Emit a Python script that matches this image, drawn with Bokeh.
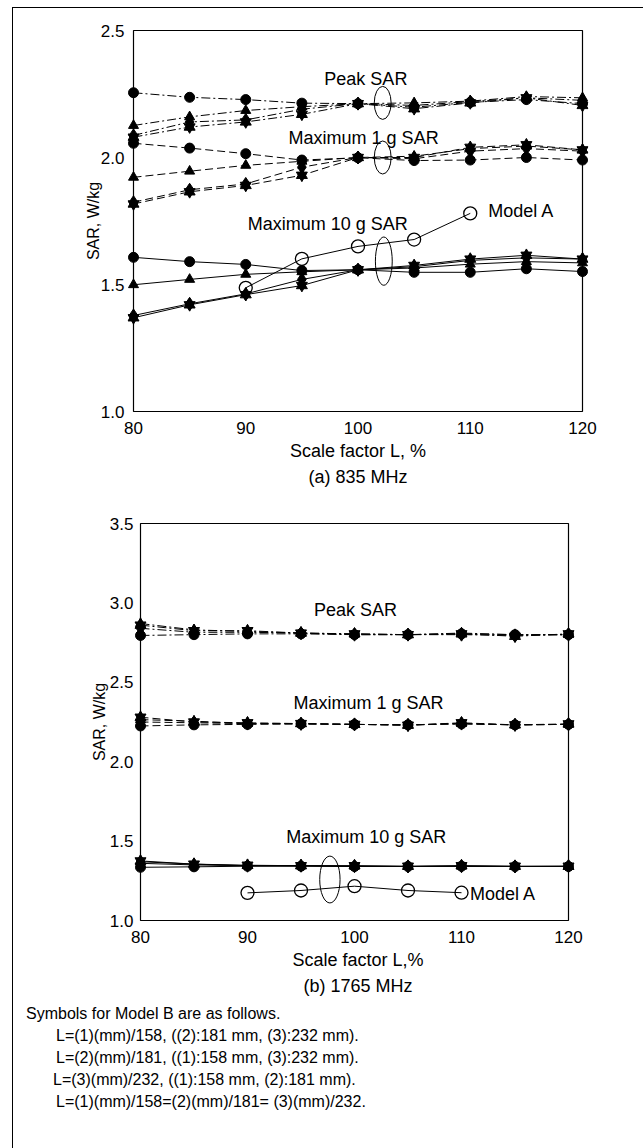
from bokeh.plotting import figure
from bokeh.models import Range1d, FixedTicker, PrintfTickFormatter, Title, Div
from bokeh.layouts import column
from bokeh.embed import file_html
from bokeh.resources import INLINE
from bokeh.core.properties import value

FONT = "Liberation Sans"

# ---------------- data ----------------
scale = [80, 85, 90, 95, 100, 105, 110, 115, 120]
model_a_scale = [90, 95, 100, 105, 110]
x_ticks = [80, 90, 100, 110, 120]

# (a) 835 MHz
a_y_ticks = [1.0, 1.5, 2.0, 2.5]
a_peak_circle = [2.255, 2.237, 2.228, 2.214, 2.212, 2.198, 2.217, 2.228, 2.212]
a_peak_triangle = [2.126, 2.160, 2.185, 2.200, 2.212, 2.215, 2.222, 2.240, 2.235]
a_peak_diamond = [2.087, 2.140, 2.148, 2.190, 2.212, 2.205, 2.220, 2.235, 2.225]
a_peak_star = [2.080, 2.120, 2.140, 2.170, 2.212, 2.192, 2.215, 2.235, 2.205]

a_1g_circle = [2.056, 2.037, 2.015, 1.990, 1.999, 1.988, 1.990, 2.000, 1.990]
a_1g_triangle = [1.922, 1.946, 1.969, 1.985, 2.000, 2.005, 2.035, 2.045, 2.030]
a_1g_diamond = [1.824, 1.873, 1.896, 1.962, 2.000, 1.995, 2.025, 2.035, 2.025]
a_1g_star = [1.817, 1.865, 1.890, 1.930, 2.000, 2.000, 2.040, 2.050, 2.030]

a_10g_circle = [1.607, 1.590, 1.579, 1.555, 1.558, 1.548, 1.548, 1.562, 1.551]
a_10g_triangle = [1.499, 1.520, 1.540, 1.550, 1.558, 1.565, 1.580, 1.590, 1.585]
a_10g_diamond = [1.378, 1.424, 1.463, 1.520, 1.558, 1.570, 1.595, 1.605, 1.600]
a_10g_star = [1.369, 1.420, 1.460, 1.496, 1.558, 1.575, 1.600, 1.615, 1.600]

a_model_a = [1.487, 1.601, 1.650, 1.677, 1.780]

# (b) 1765 MHz
b_y_ticks = [1.0, 1.5, 2.0, 2.5, 3.0, 3.5]
b_peak_circle = [2.795, 2.800, 2.805, 2.805, 2.800, 2.800, 2.805, 2.800, 2.800]
b_peak_triangle = [2.870, 2.830, 2.820, 2.810, 2.805, 2.800, 2.810, 2.800, 2.800]
b_peak_diamond = [2.840, 2.815, 2.815, 2.810, 2.800, 2.800, 2.800, 2.795, 2.800]
b_peak_star = [2.860, 2.825, 2.825, 2.810, 2.805, 2.800, 2.805, 2.790, 2.805]

b_1g_circle = [2.225, 2.232, 2.235, 2.238, 2.235, 2.232, 2.238, 2.232, 2.235]
b_1g_triangle = [2.265, 2.255, 2.240, 2.240, 2.235, 2.230, 2.240, 2.232, 2.235]
b_1g_diamond = [2.250, 2.245, 2.240, 2.238, 2.235, 2.232, 2.240, 2.232, 2.235]
b_1g_star = [2.280, 2.250, 2.245, 2.240, 2.235, 2.230, 2.245, 2.232, 2.238]

b_10g_circle = [1.335, 1.338, 1.342, 1.342, 1.340, 1.340, 1.342, 1.340, 1.340]
b_10g_triangle = [1.370, 1.355, 1.345, 1.345, 1.342, 1.340, 1.342, 1.340, 1.340]
b_10g_diamond = [1.360, 1.350, 1.345, 1.345, 1.342, 1.340, 1.342, 1.340, 1.342]
b_10g_star = [1.375, 1.355, 1.348, 1.345, 1.345, 1.342, 1.345, 1.342, 1.342]

b_model_a = [1.174, 1.189, 1.216, 1.189, 1.175]

# annotation texts / positions (data units)
a_labels = [("Peak SAR", 100.7, 2.311, "center"),
            ("Maximum 1 g SAR", 100.5, 2.075, "center"),
            ("Maximum 10 g SAR", 97.3, 1.740, "center"),
            ("Model A", 111.6, 1.791, "left")]
a_ellipses_x = [102.2, 102.2, 102.3]
a_ellipses_y = [2.215, 2.000, 1.592]
a_ellipses_w = [1.5, 1.5, 1.5]
a_ellipses_h = [0.13, 0.13, 0.19]

b_labels = [("Peak SAR", 100.1, 2.958, "center"),
            ("Maximum 1 g SAR", 101.3, 2.367, "center"),
            ("Maximum 10 g SAR", 101.1, 1.523, "center"),
            ("Model A", 110.8, 1.170, "left")]
b_ellipses_x = [97.7]
b_ellipses_y = [1.258]
b_ellipses_w = [1.9]
b_ellipses_h = [0.295]

note_lines = [
    "Symbols for Model B are as follows.",
    "L=(1)(mm)/158, ((2):181 mm, (3):232 mm).",
    "L=(2)(mm)/181, ((1):158 mm, (3):232 mm).",
    "L=(3)(mm)/232, ((1):158 mm, (2):181 mm).",
    "L=(1)(mm)/158=(2)(mm)/181= (3)(mm)/232.",
]

PEAK_DASH = "9 3 2 3"
G1_DASH = "8 4"

W = 622
B_LEFT = 114
B_RIGHT = 47
FRAME_W = W - B_LEFT - B_RIGHT  # 461


def make_panel(height, b_top, b_bottom, y_lo, y_hi, y_ticks,
               box_pad_l, box_pad_r, box_px_h, y_lab_standoff, y_axlab_standoff,
               xlabel, caption, cap_standoff,
               groups, model_a, labels, ex, ey, ew, eh):
    frame_h = height - b_top - b_bottom
    box_px_w = FRAME_W - box_pad_l - box_pad_r
    px_x = box_px_w / (scale[-1] - scale[0])
    px_y = box_px_h / (y_hi - y_lo)
    pad_y = (frame_h - box_px_h) / 2 / px_y

    p = figure(width=W, height=height, output_backend="svg", toolbar_location=None,
               x_range=Range1d(scale[0] - box_pad_l / px_x, scale[-1] + box_pad_r / px_x),
               y_range=Range1d(y_lo - pad_y, y_hi + pad_y),
               min_border_left=B_LEFT, min_border_right=B_RIGHT,
               min_border_top=b_top, min_border_bottom=b_bottom)
    p.outline_line_color = None
    p.grid.visible = False
    p.background_fill_color = "white"
    p.border_fill_color = "white"

    for ax in (p.xaxis[0], p.yaxis[0]):
        ax.axis_line_color = None
        ax.major_tick_line_color = None
        ax.minor_tick_line_color = None
        ax.major_tick_out = 0
        ax.major_tick_in = 0
        ax.minor_tick_out = 0
        ax.minor_tick_in = 0
        ax.major_label_text_font = FONT
        ax.major_label_text_font_size = "17px"
        ax.major_label_text_color = "black"
        ax.axis_label_text_font = FONT
        ax.axis_label_text_font_style = "normal"
        ax.axis_label_text_color = "black"
    p.xaxis.axis_label_text_font_size = "18px"
    p.yaxis.axis_label_text_font_size = "16px"
    p.xaxis.ticker = FixedTicker(ticks=x_ticks)
    p.yaxis.ticker = FixedTicker(ticks=y_ticks)
    p.yaxis.formatter = PrintfTickFormatter(format="%.1f")
    p.xaxis.major_label_standoff = 8
    p.yaxis.major_label_standoff = y_lab_standoff
    p.xaxis.axis_label = xlabel
    p.xaxis.axis_label_standoff = 4
    p.yaxis.axis_label = "SAR, W/kg"
    p.yaxis.axis_label_standoff = y_axlab_standoff

    t = Title(text=caption, align="center", text_font=FONT, text_font_size="18px",
              text_font_style="normal", text_color="black", standoff=cap_standoff)
    p.add_layout(t, "below")

    # frame box of the chart
    p.quad(left=[scale[0]], right=[scale[-1]], bottom=[y_lo], top=[y_hi],
           fill_color=None, line_color="black", line_width=1.2)

    for series_list, dash in groups:
        for ys in series_list:
            p.line(scale, ys, line_color="black", line_width=1, line_dash=dash)
    for series_list, dash in groups:
        c, tri, dia, star = series_list
        p.scatter(scale, c, marker="circle", size=10, fill_color="black", line_color="black")
        p.scatter(scale, tri, marker="triangle", size=10, fill_color="black", line_color="black")
        p.scatter(scale, dia, marker="diamond", size=13, fill_color="black", line_color="black")
        # six-pointed star (two overlapping triangles)
        p.scatter(scale, star, marker="triangle", size=11, fill_color="black", line_color="black")
        p.scatter(scale, star, marker="inverted_triangle", size=11, fill_color="black",
                  line_color="black")

    p.line(model_a_scale, model_a, line_color="black", line_width=1)
    p.scatter(model_a_scale, model_a, marker="circle", size=13, fill_color=None,
              line_color="black", line_width=1.3)

    p.ellipse(x=ex, y=ey, width=ew, height=eh, fill_color=None,
              line_color="black", line_width=1)

    for txt, lx, ly, al in labels:
        p.text(x=[lx], y=[ly], text=[txt], text_font=value(FONT), text_font_size="18px",
               text_align=al, text_baseline="middle", text_color="black")
    return p


p1 = make_panel(487, 20, 82, 1.0, 2.5, a_y_ticks, 6, 6, 381, 3, -4,
                "Scale factor L, %", "(a) 835 MHz", 2,
                [([a_peak_circle, a_peak_triangle, a_peak_diamond, a_peak_star], PEAK_DASH),
                 ([a_1g_circle, a_1g_triangle, a_1g_diamond, a_1g_star], G1_DASH),
                 ([a_10g_circle, a_10g_triangle, a_10g_diamond, a_10g_star], "solid")],
                a_model_a, a_labels, a_ellipses_x, a_ellipses_y, a_ellipses_w, a_ellipses_h)

p2 = make_panel(503, 26, 76, 1.0, 3.5, b_y_ticks, 13, 20, 397, -6, -1,
                "Scale factor L,%", "(b) 1765 MHz", 2,
                [([b_peak_circle, b_peak_triangle, b_peak_diamond, b_peak_star], PEAK_DASH),
                 ([b_1g_circle, b_1g_triangle, b_1g_diamond, b_1g_star], G1_DASH),
                 ([b_10g_circle, b_10g_triangle, b_10g_diamond, b_10g_star], "solid")],
                b_model_a, b_labels, b_ellipses_x, b_ellipses_y, b_ellipses_w, b_ellipses_h)

pads = [8, 38, 38, 35, 38]
html = "".join(
    f'<div style="padding-left:{pl}px;white-space:nowrap;">{ln}</div>'
    for ln, pl in zip(note_lines, pads))
div = Div(text=html, width=W, height=143,
          styles={"font-family": FONT, "font-size": "16px", "line-height": "22px",
                  "color": "black", "padding-top": "0px"})

layout = column(p1, p2, div,
                styles={"border-left": "1px solid black", "border-top": "1px solid black",
                        "margin-left": "12px", "margin-top": "7px"})

open("out.html", "w").write(file_html(layout, INLINE))
